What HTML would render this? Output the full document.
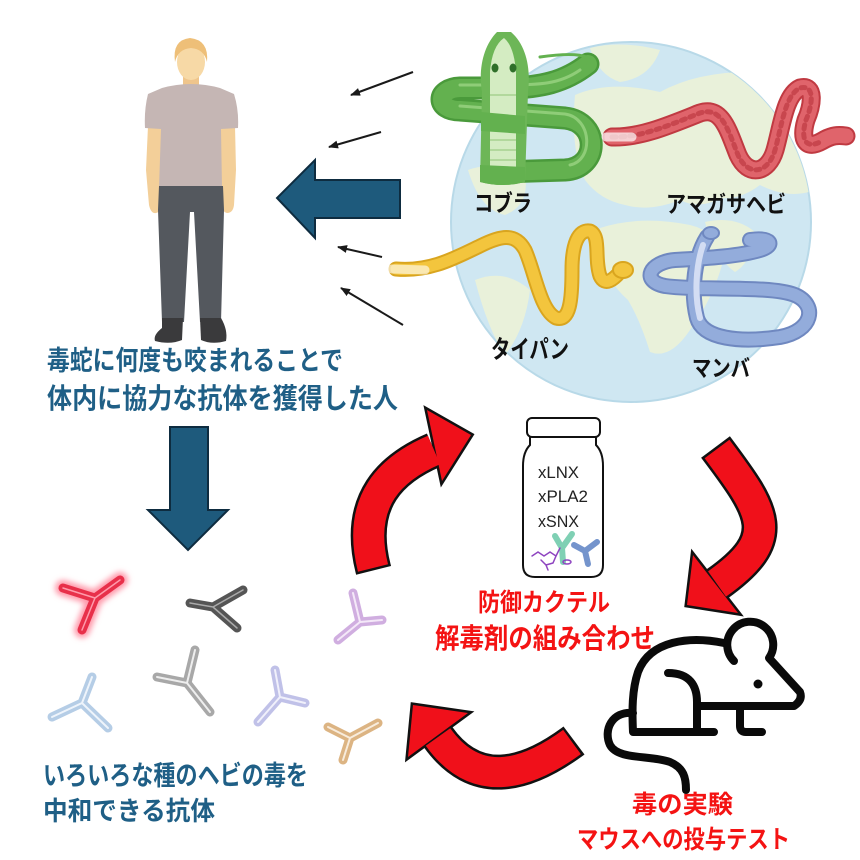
<!DOCTYPE html>
<html><head><meta charset="utf-8">
<style>
html,body{margin:0;padding:0;background:#fff;}
svg{display:block;}
text{font-family:"Liberation Sans","Noto Sans CJK JP",sans-serif;font-weight:bold;}
</style></head>
<body>
<svg width="860" height="860" viewBox="0 0 860 860" xmlns="http://www.w3.org/2000/svg">
<defs>
  <clipPath id="gc"><circle cx="631" cy="222" r="180"/></clipPath>
  <marker id="ah" markerWidth="10" markerHeight="8" refX="9" refY="4" orient="auto" markerUnits="userSpaceOnUse">
    <path d="M0,0 L10,4 L0,8 Z" fill="#1a1a1a"/>
  </marker>
  <filter id="blur" x="-50%" y="-50%" width="200%" height="200%"><feGaussianBlur stdDeviation="3"/></filter>
</defs>
<rect width="860" height="860" fill="#fff"/>

<!-- Globe -->
<circle cx="631" cy="222" r="180" fill="#cfe7f2" stroke="#b8d9e8" stroke-width="2"/>
<g clip-path="url(#gc)" fill="#e9f1da">
  <path d="M590,48 Q620,40 660,50 Q650,78 620,82 Q598,75 590,48Z"/>
  <path d="M575,95 Q610,80 660,92 Q700,70 760,72 Q800,80 815,110 L815,190 Q790,200 760,185 Q740,200 720,198 Q700,210 680,200 Q650,212 625,205 Q600,200 585,180 Q570,150 575,95Z"/>
  <path d="M600,228 Q640,215 690,225 Q720,232 722,265 Q712,300 690,330 Q670,360 650,352 Q640,320 628,300 Q605,280 600,250Z"/>
  <path d="M705,222 Q735,215 755,232 Q752,262 735,272 Q715,258 705,222Z"/>
  <path d="M468,170 Q495,160 525,175 Q530,205 505,215 Q480,210 468,170Z"/>
  <path d="M475,280 Q505,268 530,290 Q525,330 505,355 Q488,330 475,280Z"/>
</g>

<!-- Cobra (green) -->
<g fill="none" stroke-linecap="round" stroke-linejoin="round">
  <path d="M588,64 C565,82 540,88 505,88 L460,88 C436,89 436,110 460,110 L565,118 C600,122 600,168 565,170 L500,172" stroke="#4a9a3b" stroke-width="23"/>
  <path d="M588,64 C565,82 540,88 505,88 L460,88 C436,89 436,110 460,110 L565,118 C600,122 600,168 565,170 L500,172" stroke="#63b14f" stroke-width="18"/>
  <path d="M580,70 C560,84 540,85 505,85 L460,85 M460,106 L565,114 C592,118 594,160 570,165" stroke="#8fcd78" stroke-width="3"/>
  <path d="M588,64 C594,55 575,52 540,57" stroke="#63b14f" stroke-width="3"/>
</g>
<path d="M480,182 L482,92 C478,68 484,45 497,32 L511,32 C526,45 531,68 528,92 L525,182 Q503,188 480,182Z" fill="#6db657"/>
<path d="M490,180 L490,72 Q492,46 504,38 Q514,46 516,72 L516,180 Q503,184 490,180Z" fill="#d4ecc2"/>
<g stroke="#a6d290" stroke-width="1.5">
  <line x1="490" y1="95" x2="516" y2="95"/><line x1="490" y1="140" x2="516" y2="140"/>
  <line x1="490" y1="150" x2="516" y2="150"/><line x1="490" y1="160" x2="516" y2="160"/>
</g>
<path d="M481,112 L525,116 L525,134 L481,131Z" fill="#63b14f"/>
<path d="M480,165 L525,167 L525,182 Q503,188 480,182Z" fill="#63b14f"/>
<ellipse cx="495" cy="68" rx="3.5" ry="4.5" fill="#2f6f2a"/>
<ellipse cx="513" cy="68" rx="3.5" ry="4.5" fill="#2f6f2a"/>

<!-- Red snake -->
<g fill="none" stroke-linecap="round" stroke-linejoin="round">
  <path d="M612,137 C640,138 670,125 700,113 C722,106 728,130 738,155 C748,177 768,174 775,150 C782,125 785,95 800,88 C816,84 812,106 806,120 C800,140 806,150 822,141 C832,135 838,135 846,136" stroke="#c03a42" stroke-width="19"/>
  <path d="M612,137 C640,138 670,125 700,113 C722,106 728,130 738,155 C748,177 768,174 775,150 C782,125 785,95 800,88 C816,84 812,106 806,120 C800,140 806,150 822,141 C832,135 838,135 846,136" stroke="#e0646b" stroke-width="15"/>
  <path d="M612,137 C640,138 670,125 700,113 C722,106 728,130 738,155 C748,177 768,174 775,150 C782,125 785,95 800,88 C816,84 812,106 806,120 C800,140 806,150 822,141" stroke="#c8464e" stroke-width="5" stroke-dasharray="4 5"/>
  <path d="M606,137 L632,137" stroke="#fff" stroke-width="9" opacity="0.7"/>
</g>

<!-- Taipan (yellow) -->
<g fill="none" stroke-linecap="round" stroke-linejoin="round">
  <path d="M396,269 C430,272 455,258 480,246 C500,236 515,232 525,250 C535,272 540,310 556,318 C570,322 572,300 572,270 C572,245 578,229 590,231 C601,236 594,258 600,276 C605,287 614,279 620,272" stroke="#d9a51f" stroke-width="15"/>
  <path d="M396,269 C430,272 455,258 480,246 C500,236 515,232 525,250 C535,272 540,310 556,318 C570,322 572,300 572,270 C572,245 578,229 590,231 C601,236 594,258 600,276 C605,287 614,279 620,272" stroke="#f3c53d" stroke-width="11"/>
  <path d="M392,269 L425,270" stroke="#fff" stroke-width="9" opacity="0.6"/>
</g>
<ellipse cx="623" cy="270" rx="10" ry="8" fill="#f3c53d" stroke="#d9a51f" stroke-width="2"/>

<!-- Mamba (blue) -->
<g fill="none" stroke-linecap="round" stroke-linejoin="round">
  <path d="M707,237 C695,256 690,290 697,318 C703,339 740,343 780,337 C813,331 818,305 795,295 C770,285 700,291 665,286 C640,281 650,262 675,260 C710,258 740,256 760,250 C776,245 771,237 750,240" stroke="#6f88c0" stroke-width="16"/>
  <path d="M707,237 C695,256 690,290 697,318 C703,339 740,343 780,337 C813,331 818,305 795,295 C770,285 700,291 665,286 C640,281 650,262 675,260 C710,258 740,256 760,250 C776,245 771,237 750,240" stroke="#93acdb" stroke-width="12"/>
  <path d="M703,245 C696,265 694,295 700,318" stroke="#d3ddf3" stroke-width="6"/>
</g>
<ellipse cx="711" cy="233" rx="8" ry="6" fill="#93acdb" stroke="#6f88c0" stroke-width="2"/>

<!-- Snake labels -->
<text x="474" y="211" font-size="23" fill="#111" textLength="58" lengthAdjust="spacingAndGlyphs">コブラ</text>
<text x="666" y="212" font-size="23" fill="#111" textLength="120" lengthAdjust="spacingAndGlyphs">アマガサヘビ</text>
<text x="491" y="358" font-size="25" fill="#111" textLength="78" lengthAdjust="spacingAndGlyphs">タイパン</text>
<text x="692" y="376" font-size="23" fill="#111" textLength="58" lengthAdjust="spacingAndGlyphs">マンバ</text>

<!-- Small black arrows -->
<g stroke="#1a1a1a" stroke-width="2" marker-end="url(#ah)">
  <line x1="413" y1="72" x2="351" y2="95"/>
  <line x1="381" y1="132" x2="329" y2="147"/>
  <line x1="382" y1="257" x2="338" y2="247"/>
  <line x1="403" y1="325" x2="341" y2="288"/>
</g>

<!-- Big blue left arrow -->
<polygon points="400,180 315,180 315,160 277,198 315,238 315,218 400,218" fill="#1e5a7c" stroke="#0e2c40" stroke-width="2"/>
<!-- Down arrow -->
<polygon points="170,427 208,427 208,510 228,510 188,550 148,510 170,510" fill="#1e5a7c" stroke="#0e2c40" stroke-width="2"/>

<!-- Person -->
<path d="M148,126 L146,170 L149,205 Q151,214 156,213 Q161,212 160,204 L162,168 L163,128 Z" fill="#f3cf99"/>
<path d="M219,128 L220,168 L222,204 Q222,212 227,213 Q233,213 234,205 L236,170 L235,126 Z" fill="#f3cf99"/>
<rect x="183" y="72" width="16" height="20" fill="#efc58c"/>
<ellipse cx="191" cy="62" rx="14" ry="18" fill="#f7d9a6"/>
<path d="M175,62 Q172,40 190,38 Q209,40 207,62 Q204,49 191,48 Q178,49 175,62Z" fill="#eebf78"/>
<path d="M162,88 Q191,80 220,88 L234,94 Q239,110 238,128 L221,129 L222,188 L159,188 L161,129 L145,128 Q144,110 148,94 Z" fill="#c5b6b4"/>
<path d="M159,186 L223,186 L224,210 L221,322 L200,322 L194,212 L190,212 L184,322 L162,322 L158,210 Z" fill="#54585e"/>
<path d="M162,318 L183,318 L182,340 Q170,345 155,341 Q153,335 162,328Z" fill="#3a3a3c"/>
<path d="M200,318 L221,318 Q228,330 226,341 Q212,345 201,340Z" fill="#3a3a3c"/>

<!-- Blue texts -->
<text x="47" y="370" font-size="27" fill="#1f5f86" textLength="296" lengthAdjust="spacingAndGlyphs">毒蛇に何度も咬まれることで</text>
<text x="47" y="408" font-size="28" fill="#1f5f86" textLength="351" lengthAdjust="spacingAndGlyphs">体内に協力な抗体を獲得した人</text>
<text x="43" y="785" font-size="27" fill="#1f5f86" textLength="265" lengthAdjust="spacingAndGlyphs">いろいろな種のヘビの毒を</text>
<text x="43" y="820" font-size="26" fill="#1f5f86" textLength="172" lengthAdjust="spacingAndGlyphs">中和できる抗体</text>

<!-- Antibodies -->
<g stroke-linecap="round" fill="none">
  <g filter="url(#blur)" stroke="#ff9aab" stroke-width="16">
    <path d="M63,588 L95,598 L120,580 M95,598 L82,630"/>
  </g>
  <g stroke="#e8304a" stroke-width="9"><path d="M63,588 L95,598 L120,580 M95,598 L82,630"/></g>
  <g stroke="#ff9aab" stroke-width="1.5"><path d="M63,588 L95,598 L120,580 M95,598 L82,630"/></g>

  <g stroke="#555" stroke-width="9"><path d="M190,603 L213,607 L243,590 M213,607 L237,628"/></g>
  <g stroke="#aaa" stroke-width="1.5"><path d="M190,603 L213,607 L243,590 M213,607 L237,628"/></g>

  <g stroke="#d0aee0" stroke-width="9"><path d="M353,593 L360,622 L382,620 M360,622 L338,640"/></g>
  <g stroke="#f4e8f8" stroke-width="2"><path d="M353,593 L360,622 L382,620 M360,622 L338,640"/></g>

  <g stroke="#b5cde6" stroke-width="9"><path d="M92,677 L82,703 L52,717 M82,703 L108,728"/></g>
  <g stroke="#eef4fb" stroke-width="2"><path d="M92,677 L82,703 L52,717 M82,703 L108,728"/></g>

  <g stroke="#a8a8a8" stroke-width="9"><path d="M195,650 L187,683 L157,677 M187,683 L210,712"/></g>
  <g stroke="#eee" stroke-width="2"><path d="M195,650 L187,683 L157,677 M187,683 L210,712"/></g>

  <g stroke="#c0c1e8" stroke-width="9"><path d="M275,670 L280,697 L305,703 M280,697 L258,722"/></g>
  <g stroke="#f0f0fb" stroke-width="2"><path d="M275,670 L280,697 L305,703 M280,697 L258,722"/></g>

  <g stroke="#dcb483" stroke-width="9"><path d="M328,727 L350,738 L378,723 M350,738 L343,760"/></g>
  <g stroke="#f8ecdc" stroke-width="2"><path d="M328,727 L350,738 L378,723 M350,738 L343,760"/></g>
</g>

<!-- Red arrows -->
<path d="M373.6,570.4 L373,568 C356,500 392,468 434,450" fill="none" stroke="#111" stroke-width="36"/>
<polygon points="427,410 471,435 442,481" fill="#111" stroke="#111" stroke-width="5" stroke-linejoin="miter"/>
<path d="M373,568 C356,500 392,468 434,450" fill="none" stroke="#f0101a" stroke-width="31"/>
<polygon points="427,410 471,435 442,481" fill="#f0101a"/>

<path d="M715.5,447 L717,449 C765,513 782,538 717,584" fill="none" stroke="#111" stroke-width="36"/>
<polygon points="693,555 687,605 738,613" fill="#111" stroke="#111" stroke-width="5"/>
<path d="M717,449 C765,513 782,538 717,584" fill="none" stroke="#f0101a" stroke-width="31"/>
<polygon points="693,555 687,605 738,613" fill="#f0101a"/>

<path d="M574,740.5 L572,742 C524,777 475,789 438,737" fill="none" stroke="#111" stroke-width="35"/>
<polygon points="413,705 468,713 408,757" fill="#111" stroke="#111" stroke-width="5"/>
<path d="M572,742 C524,777 475,789 438,737" fill="none" stroke="#f0101a" stroke-width="30"/>
<polygon points="413,705 468,713 408,757" fill="#f0101a"/>

<!-- Vial -->
<path d="M530,437 L530,445 Q523,452 523,466 L523,565 Q523,577 535,577 L591,577 Q603,577 603,565 L603,466 Q603,452 596,445 L596,437" fill="#fff" stroke="#111" stroke-width="2"/>
<rect x="527" y="418" width="73" height="19" rx="5" fill="#fff" stroke="#111" stroke-width="2"/>
<text x="538" y="478" font-size="17" fill="#222" style="font-weight:normal" textLength="41" lengthAdjust="spacingAndGlyphs">xLNX</text>
<text x="538" y="502" font-size="17" fill="#222" style="font-weight:normal" textLength="50" lengthAdjust="spacingAndGlyphs">xPLA2</text>
<text x="538" y="527" font-size="17" fill="#222" style="font-weight:normal" textLength="41" lengthAdjust="spacingAndGlyphs">xSNX</text>
<g stroke-linecap="round" fill="none">
  <path d="M555,536 L562,548 L572,534 M562,548 L563,562" stroke="#7fd0b4" stroke-width="6"/>
  <path d="M574,545 L585,551 L597,542 M585,551 L588,564" stroke="#7494cc" stroke-width="6"/>
  <path d="M532,556 L538,552 L544,556 L550,552 L556,556 L553,563 L546,565 L541,560 M556,556 L560,548 M546,565 L548,570" stroke="#8e44c0" stroke-width="1.5"/>
  <ellipse cx="567" cy="562" rx="4" ry="2" stroke="#8e44c0" stroke-width="1.5"/>
</g>

<!-- Red texts -->
<text x="478" y="611" font-size="25" fill="#f41313" textLength="132" lengthAdjust="spacingAndGlyphs">防御カクテル</text>
<text x="435" y="648" font-size="28" fill="#f41313" textLength="220" lengthAdjust="spacingAndGlyphs">解毒剤の組み合わせ</text>
<text x="632" y="813" font-size="25" fill="#f41313" textLength="101" lengthAdjust="spacingAndGlyphs">毒の実験</text>
<text x="577" y="848" font-size="25" fill="#f41313" textLength="213" lengthAdjust="spacingAndGlyphs">マウスへの投与テスト</text>

<!-- Mouse -->
<g fill="none" stroke="#0a0a0a" stroke-width="8" stroke-linecap="round" stroke-linejoin="round">
  <path d="M734,661 A23,23 0 1 1 769,658 L800,692 Q803,700 794,706 L697,706"/>
  <path d="M724,643 C690,636 650,640 638,672 C632,690 632,710 633,732 L714,732"/>
  <path d="M633,713 C612,711 603,730 610,745 C618,760 650,755 670,762 C684,768 686,778 686,790"/>
  <path d="M668,673 C690,673 697,686 697,702 L697,732"/>
  <path d="M740,708 L740,726 Q740,732 746,732 L762,732"/>
</g>
<circle cx="758" cy="684" r="4.5" fill="#0a0a0a"/>
</svg>
</body></html>
